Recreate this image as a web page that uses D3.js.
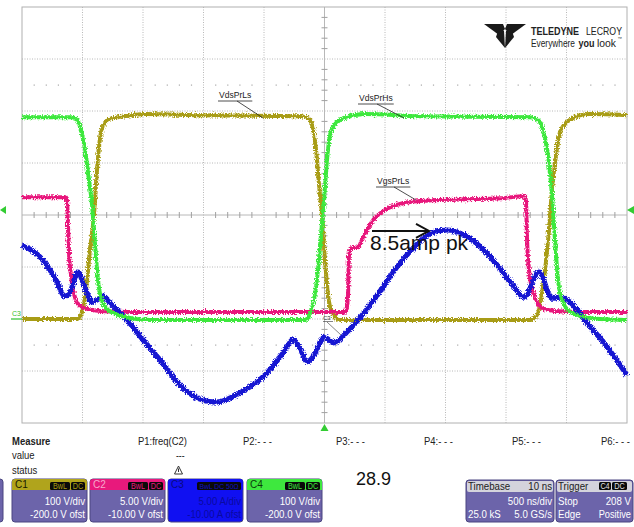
<!DOCTYPE html>
<html>
<head>
<meta charset="utf-8">
<script src="https://cdn.jsdelivr.net/npm/d3@7"></script>
<style>
  body { margin: 0; background: #fff; }
  svg { display: block; }
  text { font-family: "Liberation Sans", Arial, sans-serif; }
</style>
</head>
<body>
<div id="scope"></div>
<script>
// scope screen size
var svgWidth = 634;
var svgHeight = 527;

// grid area (10 x 8 divisions)
var grid = { left: 22, right: 627, top: 7, bottom: 423 };

// time axis, ns (500 ns/div, trigger at centre)
var timeDomain = [-2500, 2500];

// C1 VdsPrLs (V)
var c1Time = [-2500, -2037, -2004, -1971, -1938, -1905, -1880, -1855, -1822, -1773, -1649, -1483, -1029, -203, -136, -103, -70, -45, -21, 4, 29, 62, 128, 1698, 1756, 1789, 1822, 1855, 1880, 1913, 1954, 2029, 2194, 2500];
var c1Volts = [0, 0, 13, 56, 133, 200, 287, 348, 375, 385, 390, 394, 392, 390, 386, 373, 325, 258, 200, 113, 46, 13, -2, -2, 8, 37, 94, 171, 248, 315, 363, 383, 394, 392];

// C2 VgsPrLs (V)
var c2Time = [-2500, -2136, -2128, -2120, -2111, -2095, -2078, -2054, -2021, -1955, -1855, -1607, 175, 194, 202, 219, 277, 310, 360, 417, 500, 624, 789, 1120, 1450, 1657, 1665, 1674, 1690, 1715, 1748, 1797, 1905, 2112, 2500];
var c2Volts = [11.7, 11.7, 11.4, 9.0, 6.2, 4.2, 2.8, 1.8, 1.25, 0.96, 0.77, 0.67, 0.67, 2.2, 6.0, 6.8, 6.9, 7.6, 8.75, 9.7, 10.5, 11.06, 11.35, 11.5, 11.6, 11.8, 11.4, 7.6, 4.7, 3.0, 1.8, 1.06, 0.77, 0.67, 0.67];

// C3 current (A)
var c3Time = [-2500, -2351, -2227, -2144, -2103, -2037, -1987, -1921, -1880, -1830, -1773, -1632, -1500, -1359, -1194, -1029, -889, -698, -475, -343, -260, -203, -145, -87, -37, -4, 79, 186, 326, 467, 599, 740, 880, 1012, 1153, 1293, 1426, 1566, 1649, 1773, 1880, 1954, 2037, 2170, 2310, 2500];
var c3Amps = [7.1, 5.96, 3.94, 2.2, 2.6, 4.5, 3.27, 1.63, 1.83, 2.2, 1.54, -0.1, -2.0, -3.94, -6.35, -7.7, -8.0, -7.1, -5.2, -3.27, -2.0, -2.8, -4.1, -3.5, -2.3, -1.73, -2.3, -1.25, 0.58, 2.8, 5.0, 6.9, 8.27, 8.56, 8.08, 6.9, 5.2, 3.1, 2.1, 4.5, 2.0, 2.1, 1.54, -0.38, -2.3, -5.4];

// C4 VdsPrHs (V)
var c4Time = [-2500, -2087, -2045, -2012, -1979, -1946, -1921, -1896, -1872, -1847, -1806, -1731, -1607, -1442, -161, -120, -87, -54, -29, -4, 21, 45, 87, 169, 335, 789, 1698, 1764, 1806, 1847, 1880, 1905, 1930, 1963, 2012, 2112, 2277, 2500];
var c4Volts = [388, 388, 383, 363, 325, 267, 219, 142, 75, 40, 21, 10, 2, -2, -2, 10, 37, 94, 162, 229, 306, 354, 375, 387, 394, 390, 388, 383, 363, 315, 238, 152, 75, 37, 17, 6, 0, -2];

// channel settings: per div and offset
var chanNames = ["C1", "C2", "C3", "C4"];
var chanPerDiv = [100, 5, 5, 100];
var chanOffset = [-200, -10, -10, -200];
var chanLine1 = ["100 V/div", "5.00 V/div", "5.00 A/div", "100 V/div"];
var chanLine2 = ["-200.0 V ofst", "-10.00 V ofst", "-10.00 A ofst", "-200.0 V ofst"];
var chanColors = ["#a89c14", "#e8197c", "#1616d2", "#3ee83e"];

// measurement row
var paramLabels = ["P1:freq(C2)", "P2:- - -", "P3:- - -", "P4:- - -", "P5:- - -", "P6:- - -"];
var paramX = [138, 243, 336, 424, 512, 601];

var svg = d3.select("#scope")
  .append("svg")
  .attr("width", svgWidth)
  .attr("height", svgHeight);

var defs = svg.append("defs");
var noise = defs.append("filter")
  .attr("id", "noise")
  .attr("filterUnits", "userSpaceOnUse")
  .attr("x", 0).attr("y", 0)
  .attr("width", svgWidth).attr("height", svgHeight);
noise.append("feTurbulence")
  .attr("type", "fractalNoise")
  .attr("baseFrequency", "0.9 0.7")
  .attr("numOctaves", 1)
  .attr("seed", 4)
  .attr("result", "n");
noise.append("feDisplacementMap")
  .attr("in", "SourceGraphic")
  .attr("in2", "n")
  .attr("scale", 6)
  .attr("xChannelSelector", "R")
  .attr("yChannelSelector", "G");

var xScale = d3.scaleLinear().domain(timeDomain).range([grid.left, grid.right]);

function chanScale(i) {
  var centre = -chanOffset[i];
  return d3.scaleLinear()
    .domain([centre - 4 * chanPerDiv[i], centre + 4 * chanPerDiv[i]])
    .range([grid.bottom, grid.top]);
}

// grid
var gridGroup = svg.append("g");
var divW = (grid.right - grid.left) / 10;
var divH = (grid.bottom - grid.top) / 8;
var cx = xScale(0);
var cy = grid.top + 4 * divH;

d3.range(1, 10).forEach(function(i) {
  var t = timeDomain[0] + i * 500;
  gridGroup.append("line")
    .attr("x1", xScale(t)).attr("x2", xScale(t))
    .attr("y1", grid.top).attr("y2", grid.bottom)
    .attr("stroke", "#b8b8b8")
    .attr("stroke-dasharray", i === 5 ? null : "1,1.5")
    .attr("stroke-width", 1);
});
d3.range(1, 8).forEach(function(j) {
  var y = grid.top + j * divH;
  gridGroup.append("line")
    .attr("x1", grid.left).attr("x2", grid.right)
    .attr("y1", y).attr("y2", y)
    .attr("stroke", "#b8b8b8")
    .attr("stroke-dasharray", j === 4 ? null : "1,1.5")
    .attr("stroke-width", 1);
});

// minor ticks on centre lines
d3.range(1, 50).forEach(function(i) {
  if (i % 5 === 0) return;
  var xx = grid.left + i * divW / 5;
  gridGroup.append("line")
    .attr("x1", xx).attr("x2", xx)
    .attr("y1", cy - 3).attr("y2", cy + 3)
    .attr("stroke", "#a0a0a0");
  // dotted rows at +/- 2.5 div
  [cy - 2.5 * divH, cy + 2.5 * divH].forEach(function(yy) {
    gridGroup.append("rect")
      .attr("x", xx - 0.5).attr("y", yy - 0.5)
      .attr("width", 1.2).attr("height", 1.2)
      .attr("fill", "#a8a8a8");
  });
});
d3.range(1, 40).forEach(function(j) {
  if (j % 5 === 0) return;
  var yy = grid.top + j * divH / 5;
  gridGroup.append("line")
    .attr("x1", cx - 3).attr("x2", cx + 3)
    .attr("y1", yy).attr("y2", yy)
    .attr("stroke", "#a0a0a0");
});

gridGroup.append("rect")
  .attr("x", grid.left).attr("y", grid.top)
  .attr("width", grid.right - grid.left)
  .attr("height", grid.bottom - grid.top)
  .attr("fill", "none")
  .attr("stroke", "#b0b0b0");

// traces
var traces = [
  { t: c1Time, v: c1Volts, ch: 0, w: 4 },
  { t: c2Time, v: c2Volts, ch: 1, w: 4 },
  { t: c3Time, v: c3Amps, ch: 2, w: 5.2 },
  { t: c4Time, v: c4Volts, ch: 3, w: 4 }
];

var traceGroup = svg.append("g").attr("filter", "url(#noise)");
traces.forEach(function(tr) {
  var yScale = chanScale(tr.ch);
  var pts = tr.t.map(function(t, i) { return [t, tr.v[i]]; });
  var line = d3.line()
    .x(d => xScale(d[0]))
    .y(d => yScale(d[1]))
    .curve(d3.curveMonotoneX);
  traceGroup.append("path")
    .datum(pts)
    .attr("d", line)
    .attr("fill", "none")
    .attr("stroke", chanColors[tr.ch])
    .attr("stroke-width", tr.w)
    .attr("stroke-linejoin", "round");
});

// narrow scope font: squeeze text horizontally
function squeeze(sel, k) {
  sel.each(function() {
    var w = this.getComputedTextLength();
    d3.select(this).attr("textLength", w * (k || 0.86)).attr("lengthAdjust", "spacingAndGlyphs");
  });
  return sel;
}

// trace labels with leaders
var labels = [
  { text: "VdsPrLs", x: 219, y: 98, lx1: 237, ly1: 101, lx2: 263, ly2: 118 },
  { text: "VdsPrHs", x: 359, y: 101, lx1: 377, ly1: 104, lx2: 404, ly2: 118 },
  { text: "VgsPrLs", x: 377, y: 184, lx1: 394, ly1: 187, lx2: 416, ly2: 200 }
];
labels.forEach(function(l) {
  var t = svg.append("text")
    .attr("x", l.x).attr("y", l.y)
    .attr("font-size", 9.5)
    .attr("fill", "#222")
    .text(l.text);
  squeeze(t, 0.9);
  var w = t.node().getComputedTextLength();
  svg.append("line")
    .attr("x1", l.x - 1).attr("x2", l.x + w + 1)
    .attr("y1", l.ly1).attr("y2", l.ly1)
    .attr("stroke", "#222").attr("stroke-width", 0.8);
  svg.append("line")
    .attr("x1", l.lx1).attr("y1", l.ly1)
    .attr("x2", l.lx2).attr("y2", l.ly2)
    .attr("stroke", "#222").attr("stroke-width", 0.8);
});

// tiny C3 label near centre
svg.append("text")
  .attr("x", 323).attr("y", 320)
  .attr("font-size", 6)
  .attr("fill", "#333")
  .text("C3");
svg.append("line")
  .attr("x1", 323).attr("x2", 333).attr("y1", 321.5).attr("y2", 321.5)
  .attr("stroke", "#333").attr("stroke-width", 0.6);
svg.append("line")
  .attr("x1", 327).attr("y1", 322).attr("x2", 341).attr("y2", 335)
  .attr("stroke", "#333").attr("stroke-width", 0.6);

// ground marker at left
svg.append("text")
  .attr("x", 12).attr("y", 316)
  .attr("font-size", 7)
  .attr("fill", "#30c030")
  .text("C3");
svg.append("line")
  .attr("x1", 11).attr("x2", 22).attr("y1", 319).attr("y2", 319)
  .attr("stroke", "#30c030").attr("stroke-width", 1.2);

// level / trigger markers
var green = "#33cc33";
svg.append("path").attr("d", "M0,210 L6,206 L6,214 Z").attr("fill", green);
svg.append("path").attr("d", "M627,210 L634,206 L634,214 Z").attr("fill", green);
svg.append("path").attr("d", "M" + cx + ",424 L" + (cx - 4) + ",431 L" + (cx + 4) + ",431 Z").attr("fill", green);

// peak annotation
var peakY = chanScale(2)(8.56);
svg.append("line")
  .attr("x1", 372).attr("x2", 428)
  .attr("y1", peakY + 1).attr("y2", peakY + 1)
  .attr("stroke", "#111").attr("stroke-width", 2);
svg.append("path")
  .attr("d", "M416," + (peakY - 6) + " L429," + (peakY + 1) + " L416," + (peakY + 8))
  .attr("fill", "none").attr("stroke", "#111").attr("stroke-width", 2);
svg.append("text")
  .attr("x", 370).attr("y", 250)
  .attr("font-size", 21)
  .attr("fill", "#111")
  .text("8.5amp pk");

// logo
var logo = svg.append("g").attr("fill", "#1a1a1a");
logo.append("path").attr("d", "M484,24 L503,24 L505,29 L499,35 Z");
logo.append("path").attr("d", "M526,24 L507,24 L505,29 L511,35 Z");
logo.append("path").attr("d", "M499,28 L504,31 L505,48 L496,37 Z");
logo.append("path").attr("d", "M511,28 L506,31 L505,48 L514,37 Z");
var logoWords = [
  { text: "TELEDYNE", x: 531, y: 34.5, w: 48, size: 11.5, bold: true },
  { text: "LECROY", x: 586, y: 34.5, w: 36, size: 11.5, bold: false },
  { text: "Everywhere", x: 531, y: 46.5, w: 44, size: 10.5, bold: false },
  { text: "you", x: 578.5, y: 46.5, w: 16, size: 10.5, bold: true },
  { text: "look", x: 597, y: 46.5, w: 19, size: 10.5, bold: false }
];
logoWords.forEach(function(d) {
  svg.append("text")
    .attr("x", d.x).attr("y", d.y)
    .attr("font-size", d.size)
    .attr("font-weight", d.bold ? "bold" : null)
    .attr("fill", "#222")
    .attr("textLength", d.w).attr("lengthAdjust", "spacingAndGlyphs")
    .text(d.text);
});
svg.append("text").attr("x", 617.5).attr("y", 39.5).attr("font-size", 4.5).attr("fill", "#333").text("™");

// measure area
var meas = svg.append("g").attr("fill", "#222").attr("font-size", 11);
meas.append("text").attr("x", 12).attr("y", 445).attr("font-weight", "bold").text("Measure");
meas.append("text").attr("x", 12).attr("y", 459).text("value");
meas.append("text").attr("x", 12).attr("y", 474).text("status");
paramLabels.forEach(function(p, i) {
  meas.append("text").attr("x", paramX[i]).attr("y", 445).text(p);
});
meas.append("text").attr("x", 176).attr("y", 459).attr("font-size", 10).text("---");
squeeze(meas.selectAll("text"), 0.86);
svg.append("path").attr("d", "M178.5,466 L174.5,474 L182.5,474 Z").attr("fill", "none").attr("stroke", "#333").attr("stroke-width", 1);
svg.append("line").attr("x1", 178.5).attr("x2", 178.5).attr("y1", 468.5).attr("y2", 472).attr("stroke", "#333").attr("stroke-width", 1);
svg.append("text").attr("x", 356).attr("y", 485).attr("font-size", 18)
  .attr("fill", "#111").text("28.9");

// channel boxes
var boxBody = "#6c64aa";
var boxEdge = "#4a4580";
var boxX = [12, 90, 168, 247];

function badge(g, x, y, w, label, color) {
  g.append("rect").attr("x", x).attr("y", y).attr("width", w).attr("height", 8)
    .attr("rx", 1.5).attr("fill", "#0a0a0a");
  var t = g.append("text").attr("x", x + w / 2).attr("y", y + 7).attr("text-anchor", "middle")
    .attr("font-size", 8.5).attr("fill", color).text(label);
  squeeze(t, 0.85);
}

// partial box at the left edge
svg.append("rect").attr("x", -60).attr("y", 479).attr("width", 63).attr("height", 43)
  .attr("rx", 3).attr("fill", boxBody).attr("stroke", boxEdge);

chanNames.forEach(function(name, i) {
  var g = svg.append("g");
  var x0 = boxX[i], w = 75, y0 = 479, h = 43;
  var isC3 = i === 2;
  g.append("rect").attr("x", x0).attr("y", y0).attr("width", w).attr("height", h)
    .attr("rx", 3).attr("fill", isC3 ? "#1010f2" : boxBody).attr("stroke", boxEdge);
  g.append("path")
    .attr("d", "M" + x0 + "," + (y0 + 11) + " V" + (y0 + 3) + " Q" + x0 + "," + y0 + " " + (x0 + 3) + "," + y0 +
      " H" + (x0 + w - 3) + " Q" + (x0 + w) + "," + y0 + " " + (x0 + w) + "," + (y0 + 3) + " V" + (y0 + 11) + " Z")
    .attr("fill", isC3 ? "#1010f2" : i === 0 ? "#b0a41c" : chanColors[i]);
  var labCol = ["#1a1a00", "#f7a6cc", "#0a0a80", "#0b3a0b"][i];
  g.append("text").attr("x", x0 + 3).attr("y", y0 + 9).attr("font-size", 10).attr("fill", labCol).text(name);
  if (isC3) {
    g.append("rect").attr("x", x0 + 29).attr("y", y0 + 3).attr("width", 44).attr("height", 8).attr("rx", 1.5).attr("fill", "#0a0a0a");
    var bt = g.append("text").attr("x", x0 + 51).attr("y", y0 + 10).attr("text-anchor", "middle").attr("font-size", 8).attr("fill", "#1010c0").text("BwL DC 50Ω");
    squeeze(bt, 0.85);
  } else {
    badge(g, x0 + 38, y0 + 3, 20, "BwL", chanColors[i]);
    badge(g, x0 + 59, y0 + 3, 14, "DC", chanColors[i]);
  }
  var txtCol = isC3 ? "#0a0aa0" : "#ffffff";
  var t1 = g.append("text").attr("x", x0 + w - 2).attr("y", y0 + 26).attr("text-anchor", "end")
    .attr("font-size", 11).attr("fill", txtCol).text(chanLine1[i]);
  var t2 = g.append("text").attr("x", x0 + w - 2).attr("y", y0 + 39).attr("text-anchor", "end")
    .attr("font-size", 11).attr("fill", txtCol).text(chanLine2[i]);
  squeeze(t1, 0.88);
  squeeze(t2, 0.88);
});

// timebase and trigger boxes
function infoBox(x0, w, title) {
  var g = svg.append("g");
  g.append("rect").attr("x", x0).attr("y", 480).attr("width", w).attr("height", 42)
    .attr("rx", 3).attr("fill", boxBody).attr("stroke", boxEdge);
  g.append("rect").attr("x", x0 + 1).attr("y", 481).attr("width", w - 2).attr("height", 11)
    .attr("rx", 2).attr("fill", "#d4d3dc");
  g.append("text").attr("x", x0 + 2).attr("y", 490).attr("font-size", 11).attr("fill", "#222").text(title);
  return g;
}
var tb = infoBox(466, 88, "Timebase");
tb.append("text").attr("x", 552).attr("y", 490).attr("text-anchor", "end").attr("font-size", 11).attr("fill", "#222").text("10 ns");
tb.append("text").attr("x", 552).attr("y", 505).attr("text-anchor", "end").attr("font-size", 11).attr("fill", "#fff").text("500 ns/div");
tb.append("text").attr("x", 468).attr("y", 518).attr("font-size", 11).attr("fill", "#fff").text("25.0 kS");
tb.append("text").attr("x", 552).attr("y", 518).attr("text-anchor", "end").attr("font-size", 11).attr("fill", "#fff").text("5.0 GS/s");
squeeze(tb.selectAll("text"), 0.88);

var tg = infoBox(556, 77, "Trigger");
tg.append("text").attr("x", 558).attr("y", 505).attr("font-size", 11).attr("fill", "#fff").text("Stop");
tg.append("text").attr("x", 631).attr("y", 505).attr("text-anchor", "end").attr("font-size", 11).attr("fill", "#fff").text("208 V");
tg.append("text").attr("x", 558).attr("y", 518).attr("font-size", 11).attr("fill", "#fff").text("Edge");
tg.append("text").attr("x", 631).attr("y", 518).attr("text-anchor", "end").attr("font-size", 10.5).attr("fill", "#fff").text("Positive");
squeeze(tg.selectAll("text"), 0.88);
badge(tg, 599, 482, 12, "C4", "#e0e0e0");
badge(tg, 612, 482, 15, "DC", "#e0e0e0");
</script>
</body>
</html>
